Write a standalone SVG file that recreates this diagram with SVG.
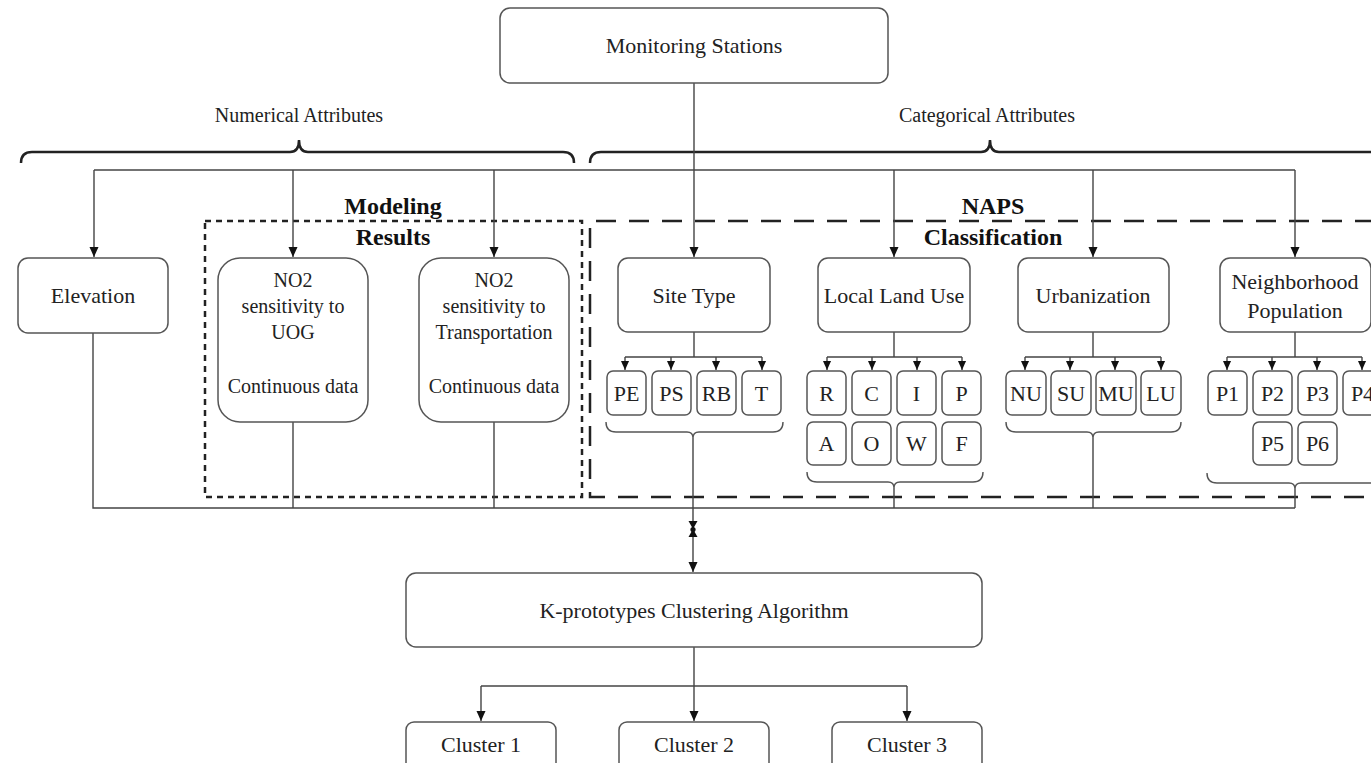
<svg xmlns="http://www.w3.org/2000/svg" width="1371" height="763" viewBox="0 0 1371 763">
<defs>
<style>
.box{fill:#fff;stroke:#555;stroke-width:1.5}
.ln{fill:none;stroke:#444;stroke-width:1.4}
.br{fill:none;stroke:#222;stroke-width:2.5}
.sbr{fill:none;stroke:#555;stroke-width:1.4}
.t{font-family:"Liberation Serif","Times New Roman",serif;fill:#222;text-anchor:middle}
.t22{font-size:22px}
.t20{font-size:20px}
.tb{font-size:24px;font-weight:bold;fill:#111}
.dot{fill:none;stroke:#222;stroke-width:2.5;stroke-dasharray:6 5}
.dash{fill:none;stroke:#222;stroke-width:2.5;stroke-dasharray:20 13}
</style>
<marker id="ar" viewBox="0 0 10 10" refX="10" refY="5" markerWidth="10" markerHeight="10" markerUnits="userSpaceOnUse" orient="auto">
<path d="M0,0.5 L10,5 L0,9.5 z" fill="#111"/>
</marker>
<marker id="ars" viewBox="0 0 10 10" refX="10" refY="5" markerWidth="9" markerHeight="9" markerUnits="userSpaceOnUse" orient="auto">
<path d="M0,0.5 L10,5 L0,9.5 z" fill="#111"/>
</marker>
</defs>
<rect width="1371" height="763" fill="#fff"/>

<!-- group frames -->
<g id="modeling-results">
<rect class="dot" x="205" y="221" width="377" height="276"/>
<text class="t tb" x="393" y="214">Modeling</text>
<text class="t tb" x="393" y="245">Results</text>
</g>
<g id="naps-classification">
<path class="dash" d="M1375,221 H590 V497 H1375"/>
<text class="t tb" x="993" y="214">NAPS</text>
<text class="t tb" x="993" y="245">Classification</text>
</g>

<!-- braces and attribute labels -->
<g id="numerical-attributes">
<text class="t t20" x="299" y="122">Numerical Attributes</text>
<path class="br" d="M21,163 Q21,152 32,152 L290,152 Q299,152 299,140 Q299,152 308,152 L563,152 Q574,152 574,163"/>
</g>
<g id="categorical-attributes">
<text class="t t20" x="987" y="122">Categorical Attributes</text>
<path class="br" d="M590,163 Q590,152 601,152 L981,152 Q990,152 990,140 Q990,152 999,152 L1380,152"/>
</g>

<!-- connectors -->
<g id="connectors">
<path class="ln" d="M694,83 V257" marker-end="url(#ar)"/>
<path class="ln" d="M94,170 H1295"/>
<path class="ln" d="M94,170 V257" marker-end="url(#ar)"/>
<path class="ln" d="M293,170 V257" marker-end="url(#ar)"/>
<path class="ln" d="M494,170 V257" marker-end="url(#ar)"/>
<path class="ln" d="M894,170 V257" marker-end="url(#ar)"/>
<path class="ln" d="M1093,170 V257" marker-end="url(#ar)"/>
<path class="ln" d="M1295,170 V257" marker-end="url(#ar)"/>

<!-- site type sub -->
<path class="ln" d="M694,332 V357 M625,357 H762"/>
<path class="ln" d="M625,357 V370" marker-end="url(#ars)"/>
<path class="ln" d="M671,357 V370" marker-end="url(#ars)"/>
<path class="ln" d="M716,357 V370" marker-end="url(#ars)"/>
<path class="ln" d="M762,357 V370" marker-end="url(#ars)"/>
<!-- land use sub -->
<path class="ln" d="M894,332 V357 M827,357 H962"/>
<path class="ln" d="M827,357 V370" marker-end="url(#ars)"/>
<path class="ln" d="M872,357 V370" marker-end="url(#ars)"/>
<path class="ln" d="M917,357 V370" marker-end="url(#ars)"/>
<path class="ln" d="M962,357 V370" marker-end="url(#ars)"/>
<!-- urbanization sub -->
<path class="ln" d="M1093,332 V357 M1025,357 H1161"/>
<path class="ln" d="M1025,357 V370" marker-end="url(#ars)"/>
<path class="ln" d="M1070,357 V370" marker-end="url(#ars)"/>
<path class="ln" d="M1115,357 V370" marker-end="url(#ars)"/>
<path class="ln" d="M1161,357 V370" marker-end="url(#ars)"/>
<!-- neighborhood sub -->
<path class="ln" d="M1295,332 V357 M1227,357 H1362"/>
<path class="ln" d="M1227,357 V370" marker-end="url(#ars)"/>
<path class="ln" d="M1272,357 V370" marker-end="url(#ars)"/>
<path class="ln" d="M1317,357 V370" marker-end="url(#ars)"/>
<path class="ln" d="M1362,357 V370" marker-end="url(#ars)"/>

<!-- small braces -->
<path class="sbr" d="M606,422 Q606,432 616,432 L687,432 Q693,432 693,438 Q693,432 699,432 L773,432 Q783,432 783,422"/>
<path class="sbr" d="M807,472 Q807,482 817,482 L888,482 Q894,482 894,488 Q894,482 900,482 L973,482 Q983,482 983,472"/>
<path class="sbr" d="M1006,422 Q1006,432 1016,432 L1087,432 Q1093,432 1093,438 Q1093,432 1099,432 L1171,432 Q1181,432 1181,422"/>
<path class="sbr" d="M1207,473 Q1207,483 1217,483 L1289,483 Q1295,483 1295,489 Q1295,483 1301,483 L1380,483"/>

<!-- collection -->
<path class="ln" d="M93,333 V508 H1295"/>
<path class="ln" d="M293,422 V508"/>
<path class="ln" d="M494,422 V508"/>
<path class="ln" d="M894,488 V508"/>
<path class="ln" d="M1093,438 V508"/>
<path class="ln" d="M1295,489 V508"/>
<path class="ln" d="M693,438 V572" marker-end="url(#ar)"/>
<path d="M688.5,521 L697.5,521 L693,529 Z M688.5,537 L697.5,537 L693,529 Z" fill="#111"/>
<circle cx="693" cy="529.5" r="2.6" fill="#111"/>

<!-- clusters -->
<path class="ln" d="M694,647 V721" marker-end="url(#ar)"/>
<path class="ln" d="M481,686 H907"/>
<path class="ln" d="M481,686 V721" marker-end="url(#ar)"/>
<path class="ln" d="M907,686 V721" marker-end="url(#ar)"/>
</g>

<!-- nodes -->
<g id="monitoring-stations">
<rect class="box" x="500" y="8" width="388" height="75" rx="10"/>
<text class="t t22" x="694" y="53">Monitoring Stations</text>
</g>
<g id="elevation">
<rect class="box" x="18" y="258" width="150" height="75" rx="10"/>
<text class="t t22" x="93" y="303">Elevation</text>
</g>
<g id="no2-uog">
<rect class="box" x="218" y="258" width="150" height="164" rx="22"/>
<text class="t t20" x="293" y="287">NO2</text>
<text class="t t20" x="293" y="313">sensitivity to</text>
<text class="t t20" x="293" y="339">UOG</text>
<text class="t t20" x="293" y="393">Continuous data</text>
</g>
<g id="no2-transportation">
<rect class="box" x="419" y="258" width="150" height="164" rx="22"/>
<text class="t t20" x="494" y="287">NO2</text>
<text class="t t20" x="494" y="313">sensitivity to</text>
<text class="t t20" x="494" y="339">Transportation</text>
<text class="t t20" x="494" y="393">Continuous data</text>
</g>
<g id="site-type">
<rect class="box" x="618" y="258" width="152" height="74" rx="10"/>
<text class="t t22" x="694" y="303">Site Type</text>
</g>
<g id="local-land-use">
<rect class="box" x="818" y="258" width="152" height="74" rx="10"/>
<text class="t t22" x="894" y="303">Local Land Use</text>
</g>
<g id="urbanization">
<rect class="box" x="1018" y="258" width="151" height="74" rx="10"/>
<text class="t t22" x="1093" y="303">Urbanization</text>
</g>
<g id="neighborhood-population">
<rect class="box" x="1220" y="258" width="151" height="74" rx="10"/>
<text class="t t22" x="1295" y="289">Neighborhood</text>
<text class="t t22" x="1295" y="318">Population</text>
</g>

<g id="site-type-values">
<rect class="box" x="607" y="371" width="39" height="44" rx="6"/><text class="t t22" x="626.5" y="401">PE</text>
<rect class="box" x="652" y="371" width="39" height="44" rx="6"/><text class="t t22" x="671.5" y="401">PS</text>
<rect class="box" x="697" y="371" width="39" height="44" rx="6"/><text class="t t22" x="716.5" y="401">RB</text>
<rect class="box" x="742" y="371" width="39" height="44" rx="6"/><text class="t t22" x="761.5" y="401">T</text>
</g>
<g id="land-use-values">
<rect class="box" x="807" y="371" width="39" height="44" rx="6"/><text class="t t22" x="826.5" y="401">R</text>
<rect class="box" x="852" y="371" width="39" height="44" rx="6"/><text class="t t22" x="871.5" y="401">C</text>
<rect class="box" x="897" y="371" width="39" height="44" rx="6"/><text class="t t22" x="916.5" y="401">I</text>
<rect class="box" x="942" y="371" width="39" height="44" rx="6"/><text class="t t22" x="961.5" y="401">P</text>
<rect class="box" x="807" y="422" width="39" height="43" rx="6"/><text class="t t22" x="826.5" y="451">A</text>
<rect class="box" x="852" y="422" width="39" height="43" rx="6"/><text class="t t22" x="871.5" y="451">O</text>
<rect class="box" x="897" y="422" width="39" height="43" rx="6"/><text class="t t22" x="916.5" y="451">W</text>
<rect class="box" x="942" y="422" width="39" height="43" rx="6"/><text class="t t22" x="961.5" y="451">F</text>
</g>
<g id="urbanization-values">
<rect class="box" x="1006" y="371" width="40" height="44" rx="6"/><text class="t t22" x="1026" y="401">NU</text>
<rect class="box" x="1051" y="371" width="40" height="44" rx="6"/><text class="t t22" x="1071" y="401">SU</text>
<rect class="box" x="1096" y="371" width="40" height="44" rx="6"/><text class="t t22" x="1116" y="401">MU</text>
<rect class="box" x="1141" y="371" width="40" height="44" rx="6"/><text class="t t22" x="1161" y="401">LU</text>
</g>
<g id="population-values">
<rect class="box" x="1208" y="371" width="39" height="44" rx="6"/><text class="t t22" x="1227.5" y="401">P1</text>
<rect class="box" x="1253" y="371" width="39" height="44" rx="6"/><text class="t t22" x="1272.5" y="401">P2</text>
<rect class="box" x="1298" y="371" width="39" height="44" rx="6"/><text class="t t22" x="1317.5" y="401">P3</text>
<rect class="box" x="1343" y="371" width="39" height="44" rx="6"/><text class="t t22" x="1362.5" y="401">P4</text>
<rect class="box" x="1253" y="422" width="39" height="43" rx="6"/><text class="t t22" x="1272.5" y="451">P5</text>
<rect class="box" x="1298" y="422" width="39" height="43" rx="6"/><text class="t t22" x="1317.5" y="451">P6</text>
</g>

<g id="k-prototypes">
<rect class="box" x="406" y="573" width="576" height="74" rx="10"/>
<text class="t t22" x="694" y="618">K-prototypes Clustering Algorithm</text>
</g>
<g id="cluster-1">
<rect class="box" x="406" y="722" width="150" height="60" rx="8"/>
<text class="t t22" x="481" y="752">Cluster 1</text>
</g>
<g id="cluster-2">
<rect class="box" x="619" y="722" width="150" height="60" rx="8"/>
<text class="t t22" x="694" y="752">Cluster 2</text>
</g>
<g id="cluster-3">
<rect class="box" x="832" y="722" width="150" height="60" rx="8"/>
<text class="t t22" x="907" y="752">Cluster 3</text>
</g>
</svg>
